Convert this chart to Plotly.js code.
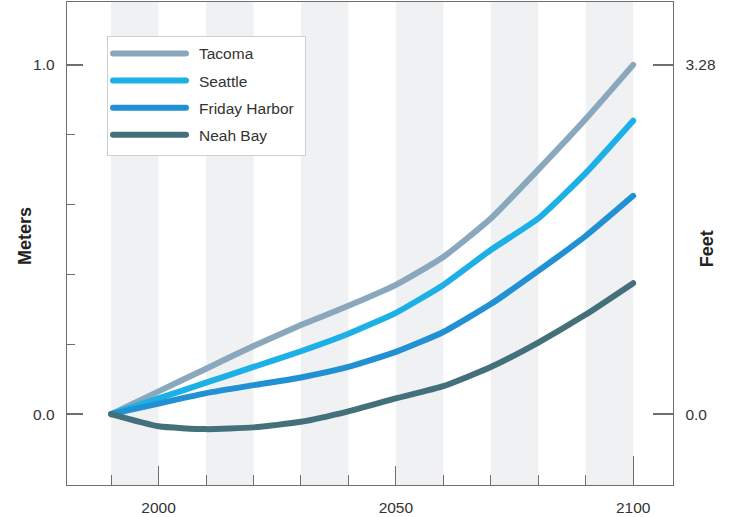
<!DOCTYPE html>
<html>
<head>
<meta charset="utf-8">
<script src="https://cdn.plot.ly/plotly-3.0.1.min.js"></script>
<style>
html,body{margin:0;padding:0;background:#fff;}
.scatterlayer path.js-line{stroke-linecap:round;}
.legendlines path{stroke-linecap:round;}
.legend .legendtext{transform:translate(8px,0);}
.legend .scrollbox{clip-path:none !important;}
.legend rect.bg{width:198px;height:119px;}
</style>
</head>
<body>
<div id="chart" style="width:734px;height:517px;"></div>
<script>
const years = [1990, 2000, 2010, 2020, 2030, 2040, 2050, 2060, 2070, 2080, 2090, 2100];
const tacoma = [0, 0.065, 0.13, 0.195, 0.255, 0.31, 0.37, 0.45, 0.56, 0.70, 0.845, 1.0];
const seattle = [0, 0.045, 0.09, 0.135, 0.18, 0.23, 0.29, 0.37, 0.47, 0.56, 0.69, 0.84];
const fridayHarbor = [0, 0.03, 0.06, 0.083, 0.105, 0.135, 0.178, 0.235, 0.315, 0.41, 0.51, 0.625];
const neahBay = [0, -0.035, -0.043, -0.038, -0.022, 0.008, 0.045, 0.08, 0.135, 0.205, 0.285, 0.375];
const seriesNames = ["Tacoma", "Seattle", "Friday Harbor", "Neah Bay"];
const seriesColors = ["#8aa8bd", "#1cb0e6", "#2191d4", "#44707b"];
const bandStarts = [1990, 2010, 2030, 2050, 2070, 2090];
const xTickVals = [2000, 2050, 2100];
const xTickText = ["2000", "2050", "2100"];
const xMinorVals = [1990, 2010, 2020, 2030, 2040, 2060, 2070, 2080, 2090];
const yTickVals = [0, 1];
const yTickTextMeters = ["0.0", "1.0"];
const yTickTextFeet = ["0.0", "3.28"];
const yMinorVals = [0.2, 0.4, 0.6, 0.8];
const leftTitle = "Meters";
const rightTitle = "Feet";

const seriesValues = [tacoma, seattle, fridayHarbor, neahBay];
const FONT = "Liberation Sans, Arial, sans-serif";
const traces = seriesValues.map((vals, i) => ({
  type: "scatter", mode: "lines", x: years, y: vals, name: seriesNames[i],
  legendgroup: "g" + i,
  line: {color: seriesColors[i], width: 6, shape: "spline", smoothing: 0.5}, hoverinfo: "skip"
}));
traces.push({type: "scatter", mode: "lines", x: [], y: [], xaxis: "x2", yaxis: "y2", showlegend: false});

const xRange = [1980.7, 2108.4];
const yRange = [-0.203, 1.18];
const axisColor = "#6e6e6e";

const shapes = bandStarts.map(s => ({
  type: "rect", xref: "x", yref: "paper", x0: s, x1: s + 10, y0: 0, y1: 1,
  fillcolor: "#f0f1f3", line: {width: 0}, layer: "below"
}));

const layout = {
  width: 734, height: 517,
  margin: {l: 67, r: 61, t: 2, b: 32},
  paper_bgcolor: "#ffffff", plot_bgcolor: "#ffffff",
  font: {family: FONT, size: 15.5, color: "#333333"},
  showlegend: true,
  legend: {
    x: 0.066, y: 0.93, xanchor: "left", yanchor: "top",
    bgcolor: "#ffffff", bordercolor: "#cfcfcf", borderwidth: 1,
    font: {family: FONT, size: 15.5, color: "#333333"},
    itemwidth: 73, traceorder: "grouped", tracegroupgap: 4
  },
  xaxis: {
    range: xRange, tickmode: "array", tickvals: xTickVals, ticktext: xTickText,
    ticks: "inside", ticklen: 19, tickwidth: 1, tickcolor: axisColor,
    minor: {tickvals: xMinorVals, ticks: "inside", ticklen: 10, tickwidth: 1, tickcolor: axisColor},
    showline: true, linecolor: axisColor, linewidth: 1.3, mirror: true,
    showgrid: false, zeroline: false, ticklabelstandoff: 8,
    tickfont: {family: FONT, size: 15.5, color: "#333"}
  },
  xaxis2: {
    range: xRange, overlaying: "x", anchor: "y", tickmode: "array", tickvals: [2100],
    ticks: "inside", ticklen: 29, tickwidth: 1, tickcolor: axisColor,
    showticklabels: false, showline: false, showgrid: false, zeroline: false
  },
  yaxis: {
    range: yRange, tickmode: "array", tickvals: yTickVals, ticktext: yTickTextMeters,
    ticks: "inside", ticklen: 16, tickwidth: 1.3, tickcolor: axisColor,
    minor: {tickvals: yMinorVals, ticks: "inside", ticklen: 8, tickwidth: 1.3, tickcolor: axisColor},
    showline: true, linecolor: axisColor, linewidth: 1.3,
    showgrid: false, zeroline: false, ticklabelstandoff: 8,
    tickfont: {family: FONT, size: 15.5, color: "#333"}
  },
  yaxis2: {
    range: yRange, overlaying: "y", side: "right", anchor: "x",
    tickmode: "array", tickvals: yTickVals, ticktext: yTickTextFeet,
    ticks: "inside", ticklen: 20, tickwidth: 1.3, tickcolor: axisColor,
    showline: true, linecolor: axisColor, linewidth: 1.3,
    showgrid: false, zeroline: false, ticklabelstandoff: 8,
    tickfont: {family: FONT, size: 15.5, color: "#333"}
  },
  annotations: [
    {text: "<b>" + leftTitle + "</b>", xref: "paper", yref: "paper", x: -0.0693, y: 0.5155,
     xanchor: "center", yanchor: "middle", textangle: -90, showarrow: false,
     font: {family: FONT, size: 18, color: "#222"}},
    {text: "<b>" + rightTitle + "</b>", xref: "paper", yref: "paper", x: 1.056, y: 0.49,
     xanchor: "center", yanchor: "middle", textangle: -90, showarrow: false,
     font: {family: FONT, size: 18, color: "#222"}}
  ],
  shapes: shapes
};

Plotly.newPlot("chart", traces, layout, {displayModeBar: false, staticPlot: true});
</script>
</body>
</html>
